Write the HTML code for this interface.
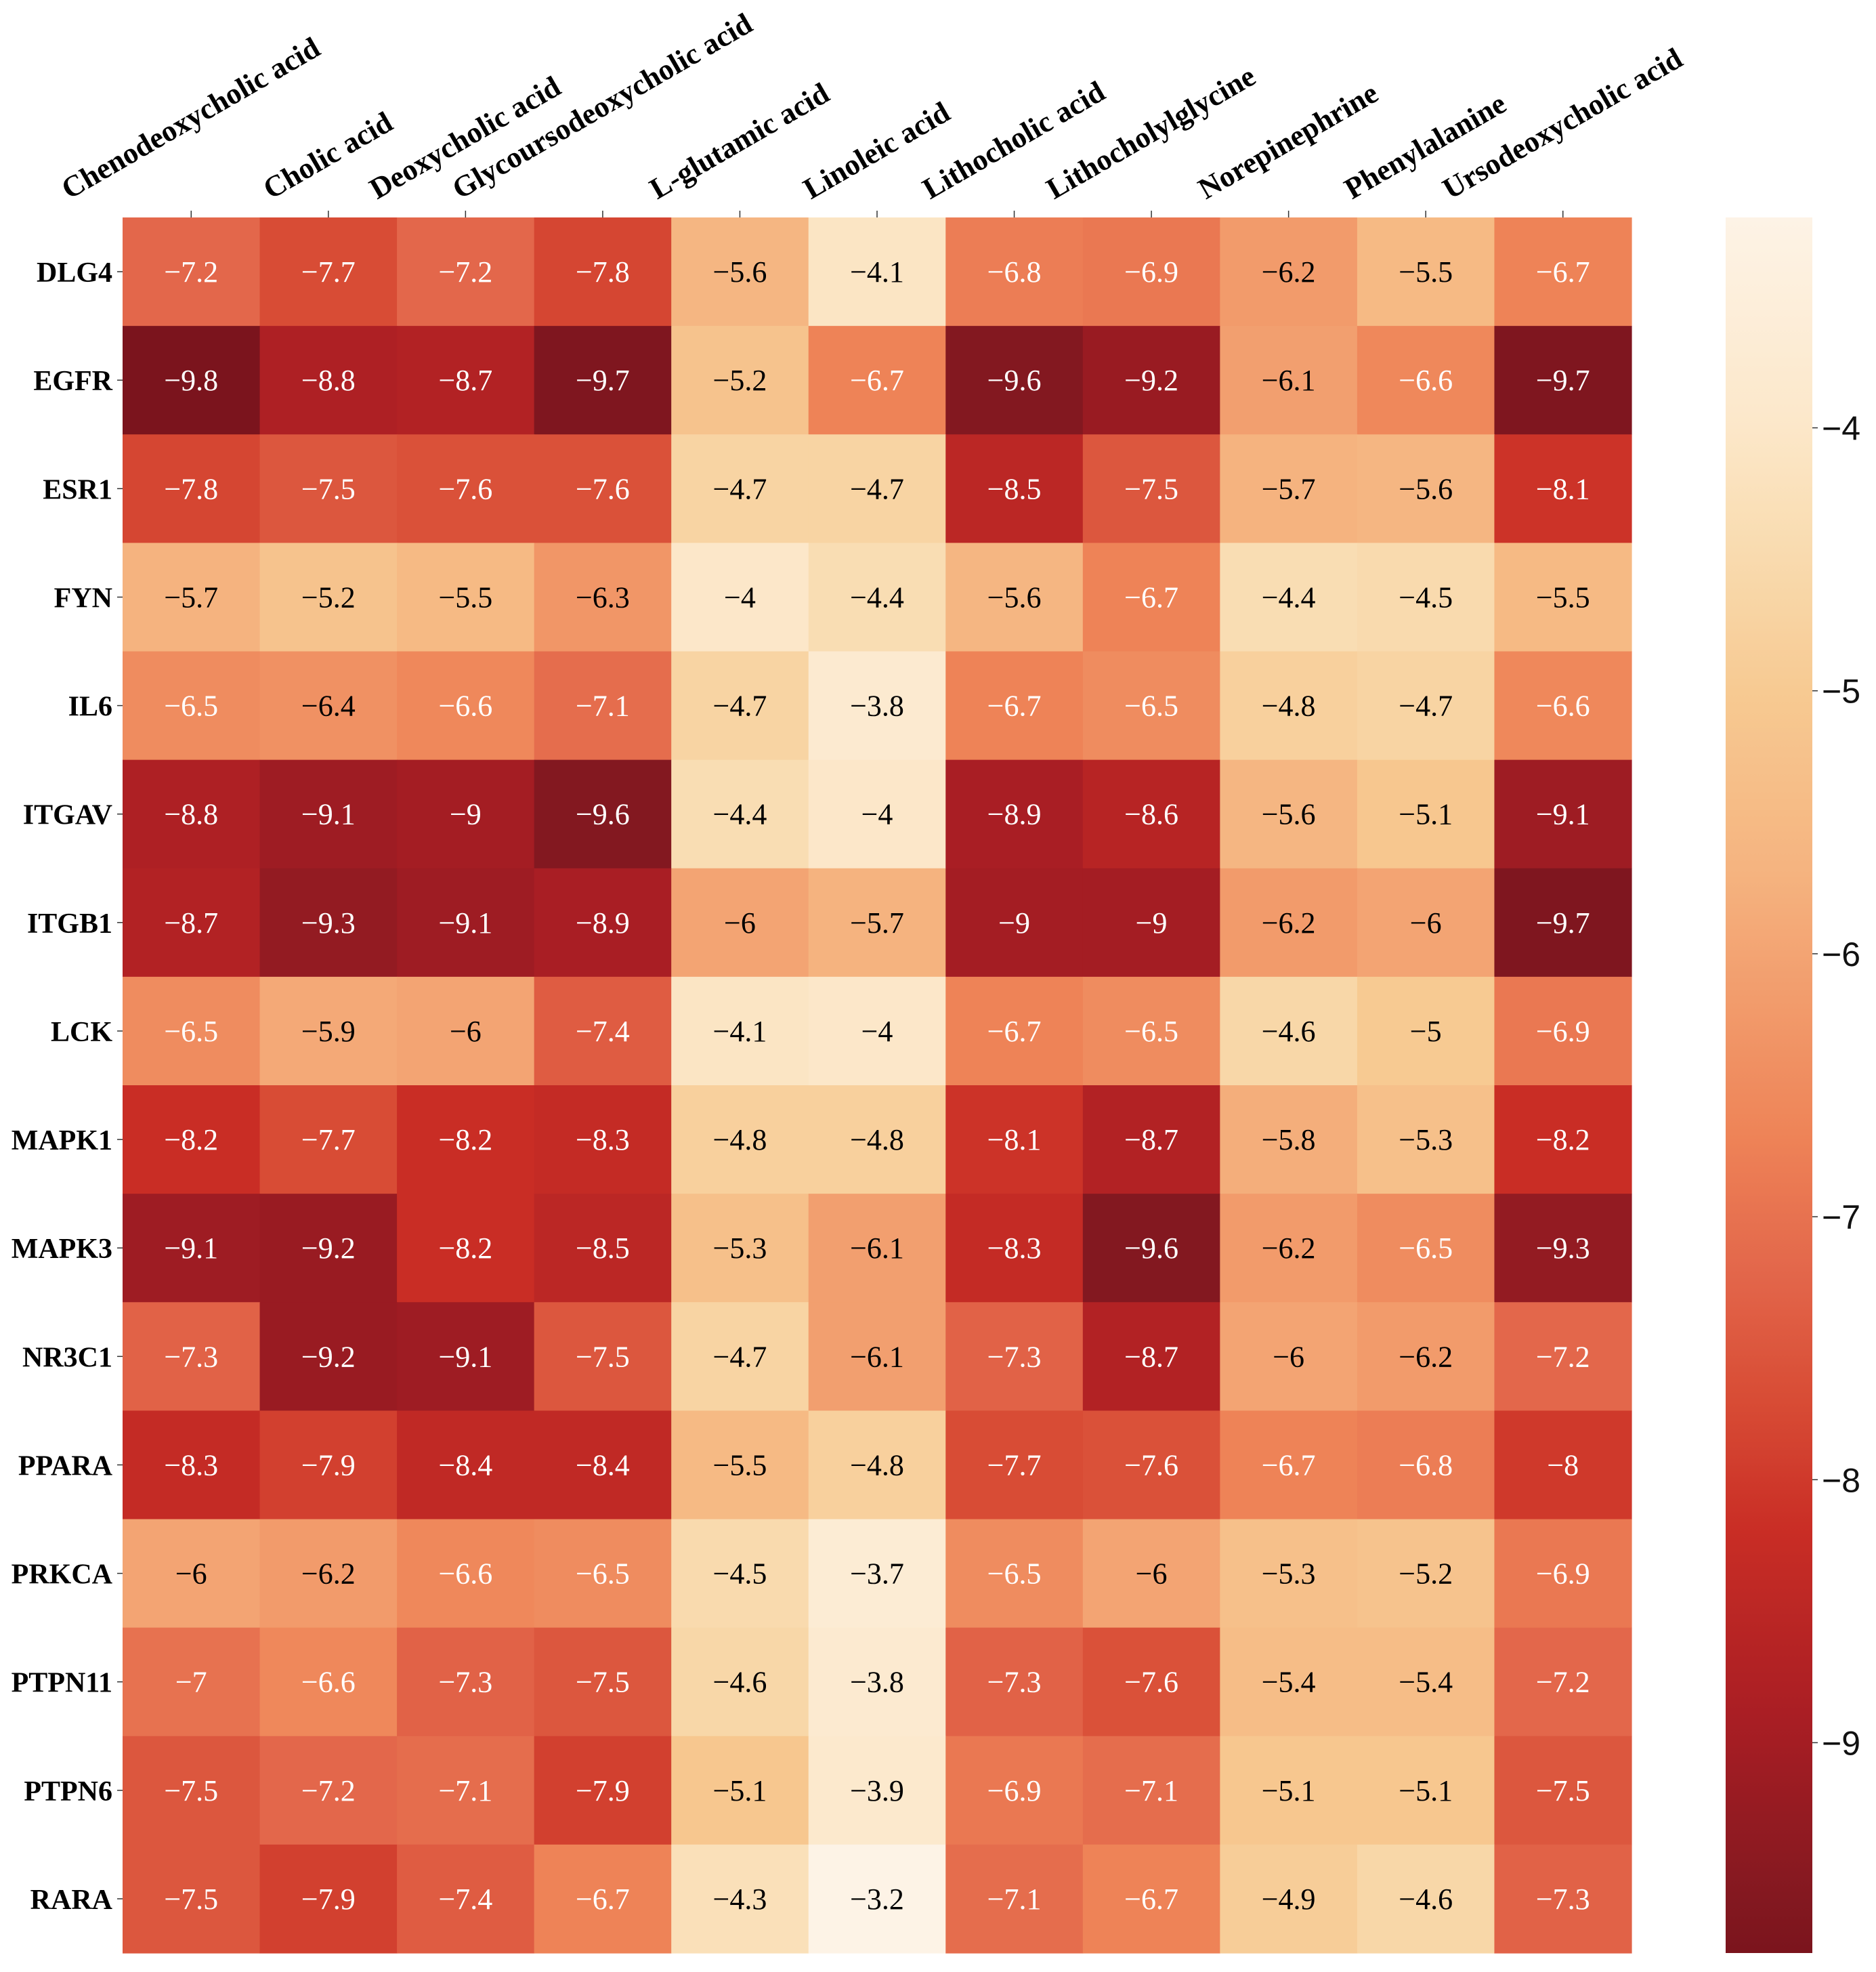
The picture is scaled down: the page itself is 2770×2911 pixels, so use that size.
<!DOCTYPE html>
<html><head><meta charset="utf-8"><style>
html,body{margin:0;padding:0;background:#fff;}
svg{display:block;}
</style></head><body>
<svg id="chart" xmlns="http://www.w3.org/2000/svg" width="2770" height="2911" viewBox="0 0 2770 2911">
<rect width="2770" height="2911" fill="#fff"/>
<g id="cells"></g>
<g id="xlabels"></g>
<g id="ylabels"></g>
<defs><linearGradient id="cbgrad" x1="0" y1="0" x2="0" y2="1"></linearGradient></defs>
<rect id="cbar" x="2548" y="321" width="128" height="2562" fill="url(#cbgrad)"/>
<g id="cbticks"></g>
</svg>
<script>
const columns = ["Chenodeoxycholic acid","Cholic acid","Deoxycholic acid","Glycoursodeoxycholic acid","L-glutamic acid","Linoleic acid","Lithocholic acid","Lithocholylglycine","Norepinephrine","Phenylalanine","Ursodeoxycholic acid"];
const rows = ["DLG4","EGFR","ESR1","FYN","IL6","ITGAV","ITGB1","LCK","MAPK1","MAPK3","NR3C1","PPARA","PRKCA","PTPN11","PTPN6","RARA"];
const values = [
[-7.2,-7.7,-7.2,-7.8,-5.6,-4.1,-6.8,-6.9,-6.2,-5.5,-6.7],
[-9.8,-8.8,-8.7,-9.7,-5.2,-6.7,-9.6,-9.2,-6.1,-6.6,-9.7],
[-7.8,-7.5,-7.6,-7.6,-4.7,-4.7,-8.5,-7.5,-5.7,-5.6,-8.1],
[-5.7,-5.2,-5.5,-6.3,-4,-4.4,-5.6,-6.7,-4.4,-4.5,-5.5],
[-6.5,-6.4,-6.6,-7.1,-4.7,-3.8,-6.7,-6.5,-4.8,-4.7,-6.6],
[-8.8,-9.1,-9,-9.6,-4.4,-4,-8.9,-8.6,-5.6,-5.1,-9.1],
[-8.7,-9.3,-9.1,-8.9,-6,-5.7,-9,-9,-6.2,-6,-9.7],
[-6.5,-5.9,-6,-7.4,-4.1,-4,-6.7,-6.5,-4.6,-5,-6.9],
[-8.2,-7.7,-8.2,-8.3,-4.8,-4.8,-8.1,-8.7,-5.8,-5.3,-8.2],
[-9.1,-9.2,-8.2,-8.5,-5.3,-6.1,-8.3,-9.6,-6.2,-6.5,-9.3],
[-7.3,-9.2,-9.1,-7.5,-4.7,-6.1,-7.3,-8.7,-6,-6.2,-7.2],
[-8.3,-7.9,-8.4,-8.4,-5.5,-4.8,-7.7,-7.6,-6.7,-6.8,-8],
[-6,-6.2,-6.6,-6.5,-4.5,-3.7,-6.5,-6,-5.3,-5.2,-6.9],
[-7,-6.6,-7.3,-7.5,-4.6,-3.8,-7.3,-7.6,-5.4,-5.4,-7.2],
[-7.5,-7.2,-7.1,-7.9,-5.1,-3.9,-6.9,-7.1,-5.1,-5.1,-7.5],
[-7.5,-7.9,-7.4,-6.7,-4.3,-3.2,-7.1,-6.7,-4.9,-4.6,-7.3]
];
const cbTicks = [-4,-5,-6,-7,-8,-9];
const vmin = -9.8, vmax = -3.2;

const NS = "http://www.w3.org/2000/svg";
const X0 = 181, X1 = 2409, Y0 = 321, Y1 = 2883;
const cw = (X1 - X0) / columns.length, ch = (Y1 - Y0) / rows.length;
const xPos = i => X0 + i * cw;
const yPos = j => Y0 + j * ch;
const cbY = v => Y0 + (vmax - v) / (vmax - vmin) * (Y1 - Y0);

const stops = [[-3.2,"#fdf3e6"],[-4,"#fce7c9"],[-4.4,"#f9ddb3"],[-5,"#f7ca92"],[-5.7,"#f5b37f"],[-6,"#f3a473"],[-6.7,"#ee8357"],[-7.2,"#e3674b"],[-7.7,"#d84c35"],[-8.2,"#c92d25"],[-8.9,"#a91e24"],[-9.6,"#831820"],[-9.8,"#7b141d"]];
function hex(c){return [1,3,5].map(k=>parseInt(c.substr(k,2),16));}
function color(v){
  if (v >= stops[0][0]) return stops[0][1];
  for (let k=0;k<stops.length-1;k++){
    const [a,ca]=stops[k],[b,cb]=stops[k+1];
    if (v<=a && v>=b){const t=(a-v)/(a-b);const A=hex(ca),B=hex(cb);
      return "rgb("+A.map((x,i)=>Math.round(x+(B[i]-x)*t)).join(",")+")";}
  }
  return stops[stops.length-1][1];
}
function el(tag, attrs, parent){const e=document.createElementNS(NS,tag);for(const k in attrs)e.setAttribute(k,attrs[k]);parent.appendChild(e);return e;}

const gc = document.getElementById("cells");
values.forEach((row,j)=>row.forEach((v,i)=>{
  const r = el("rect",{x:xPos(i),y:yPos(j),width:cw+0.6,height:ch+0.6,fill:color(v)},gc);
  
  
  const t = el("text",{x:xPos(i)+cw/2,y:yPos(j)+ch/2+15,"text-anchor":"middle","font-family":"'Liberation Serif',serif","font-size":"44",fill:(v<=-6.5?"#fff":"#000")},gc);
  
  
  t.textContent = String(v).replace("-","\u2212");
}));

const gx = document.getElementById("xlabels");
columns.forEach((c,i)=>{
  const cx = xPos(i)+cw/2;
  const tk = el("line",{x1:cx,x2:cx,y1:Y0-10,y2:Y0,stroke:"#333","stroke-width":"1.5"},gx);
  
  
  const t = el("text",{"text-anchor":"middle","font-family":"'Liberation Serif',serif","font-weight":"bold","font-size":"44"},gx);
  
  
  t.textContent = c;
  const L = t.getComputedTextLength();
  const h = 31;
  const bh = L*Math.sin(Math.PI/6) + h*Math.cos(Math.PI/6);
  const yc = 297 - bh/2;
  t.setAttribute("x", cx); t.setAttribute("y", yc + 13);
  t.setAttribute("transform","rotate(-30 "+cx+" "+yc+")");
});

const gy = document.getElementById("ylabels");
rows.forEach((r,j)=>{
  const cy = yPos(j)+ch/2;
  const tk = el("line",{x1:X0-8,x2:X0,y1:cy,y2:cy,stroke:"#333","stroke-width":"1.5"},gy);
  
  
  const t = el("text",{x:166,y:cy+15,"text-anchor":"end","font-family":"'Liberation Serif',serif","font-weight":"bold","font-size":"42"},gy);
  
  
  t.textContent = r;
});

const grad = document.getElementById("cbgrad");
for (let k=0;k<=66;k++){
  const v = vmax - k*(vmax-vmin)/66;
  el("stop",{offset:(k/66),"stop-color":color(v)},grad);
}
const gt = document.getElementById("cbticks");
cbTicks.forEach(v=>{
  const y = cbY(v);
  const tk = el("line",{x1:2676,x2:2684,y1:y,y2:y,stroke:"#333","stroke-width":"1.5"},gt);
  
  
  const t = el("text",{x:2690,y:y+18,"font-family":"'Liberation Sans',sans-serif","font-size":"50",fill:"#111"},gt);
  
  
  t.textContent = "\u2212" + Math.abs(v);
});
</script>
</body></html>
